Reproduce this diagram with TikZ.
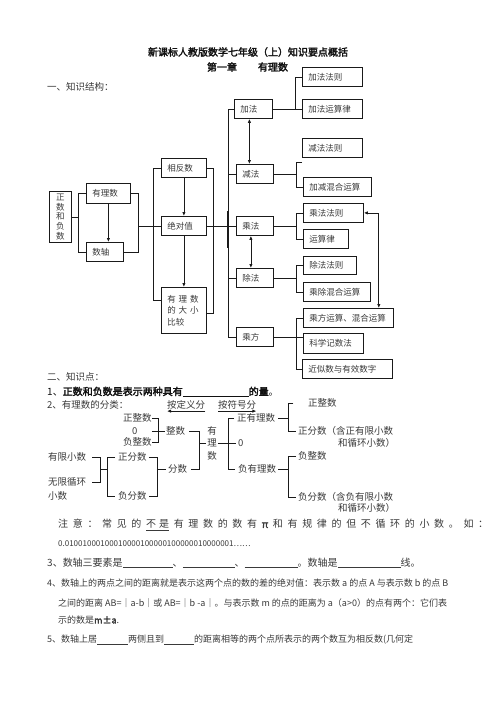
\documentclass[tikz,border=0pt]{standalone}
\usepackage{fontspec}
\setmainfont{Noto Sans CJK SC}[AutoFakeBold=2.5]
\usetikzlibrary{arrows.meta,calc,positioning}
\definecolor{cInk}{HTML}{111111}
\definecolor{cText}{HTML}{3A3A3A}
\definecolor{cLine}{HTML}{1A1A1A}

\begin{document}
\begin{tikzpicture}[
  x=1pt, y=-1pt,
  font=\fontsize{9.5}{11}\selectfont,
  >={Latex[length=4pt,width=3.4pt]},
  link/.style={draw=cLine, line width=0.8pt},
  alink/.style={link, ->},
  dlink/.style={link, <->},
  card/.style={draw=cLine, line width=0.8pt, anchor=north west,
    inner xsep=6pt, inner ysep=0pt, text width=#1, minimum height=19pt,
    align=left, text=cText, font=\fontsize{8.5}{10}\selectfont},
  txt/.style={anchor=west, inner sep=0pt, text=cText,
    font=\fontsize{9.5}{11}\selectfont},
  head/.style={inner sep=0pt, text=cInk,
    font=\fontsize{10}{12}\selectfont\bfseries},
]
\fill[white] (0,0) rectangle (496,702);
\useasboundingbox (0,0) rectangle (496,702);

% ---- Headings ----
\node[head] (title) at (248,52) {新课标人教版数学七年级（上）知识要点概括};
\node[head] (chap) at (222,67) {第一章};
\node[head] (chapName) at (273,67) {有理数};
\node[txt] (sec1) at (47,87) {一、知识结构：};

% ---- Structure: left part ----
\node[card=10pt, align=center, minimum height=51pt,
  font=\fontsize{8.5}{9.6}\selectfont] (posneg) at (49,191) {正\\数\\和\\负\\数};
\node[card=32pt, minimum height=20pt] (rational) at (86,183) {有理数};
\node[card=25pt] (numline) at (86,242) {数轴};
\node[card=33pt] (opposite) at (161,158) {相反数};
\node[card=33pt] (absval) at (161,216) {绝对值};
\node[card=33pt, minimum height=46pt, font=\fontsize{8.5}{11.5}\selectfont] (compare)
  at (161,287) {\makebox[34pt][s]{有 理 数}\\\makebox[34pt][s]{的 大 小}\\比较};

% ---- Structure: operations ----
\node[card=26pt] (add) at (234,99) {加法};
\node[card=25pt] (sub) at (236,164) {减法};
\node[card=25pt] (mul) at (236,216) {乘法};
\node[card=25pt] (div) at (236,268) {除法};
\node[card=25pt] (pow) at (236,327) {乘方};

\node[card=48pt] (addRule) at (302,67) {加法法则};
\node[card=48pt] (addLaw) at (302,99) {加法运算律};
\node[card=48pt] (subRule) at (302,138) {减法法则};
\node[card=56pt] (addSub) at (303,177) {加减混合运算};
\node[card=48pt] (mulRule) at (303,203) {乘法法则};
\node[card=33pt] (mulLaw) at (303,229) {运算律};
\node[card=41pt, minimum height=18pt] (divRule) at (303,256) {除法法则};
\node[card=55pt] (mulDiv) at (303,282) {乘除混合运算};
\node[card=78pt] (powMix) at (303,308) {乘方运算、混合运算};
\node[card=48pt, minimum height=20pt] (sciNot) at (303,333) {科学记数法};
\node[card=78pt] (approx) at (302,359) {近似数与有效数字};

% ---- Structure connectors ----
\draw[link] (posneg.east) -- ++(7,0);
\draw[link] (rational.west) -- ++(-8,0) |- (numline.west);
\draw[link] (rational.east) -- ++(8,0) coordinate (lb) |- (numline.east);
\draw[alink] (rational.south) -- (rational.south |- numline.north);
\draw[link] (lb |- absval.west) -- (absval.west);

\draw[link] (opposite.west) -- ++(-8,0) |- ([yshift=10pt]compare.west);
\draw[link] (opposite.east) -- ++(7,0) |- ([yshift=-3pt]compare.east);
\draw[alink] (opposite.south) -- (absval.north);
\draw[alink] (absval.south) -- (compare.north);
\draw[link] (absval.east) -- (mul.west);

\draw[link] (add.west) -- ++(-6,0) |- (pow.west);
\draw[link] (sub.west) -- ++(-8,0);
\draw[link] (div.west) -- ++(-8,0);
\draw[link, line width=1.6pt] ($(mul.west)+(-8,-15)$) -- ($(mul.west)+(-8,22)$);
\draw[dlink] ([xshift=-4pt]add.south) -- ([xshift=-4pt]add.south |- sub.north);
\draw[dlink] ([xshift=-4pt]mul.south) -- ([xshift=-4pt]mul.south |- div.north);

\draw[link] (add.east) -- ++(22,0);
\draw[link] (addRule.west) -- ++(-7,0) |- (addLaw.west);
\draw[link] (sub.east) -- ++(23,0);
\draw[link] ([yshift=-5pt]subRule.south west) -- ++(-6,0) |- (addSub.west);
\draw[link] (mul.east) -- ++(23,0);
\draw[link] (mulRule.west) -- ++(-7,0) |- (mulLaw.west);
\draw[link] (div.east) -- ++(23,0);
\draw[link] (divRule.west) -- ++(-7,0) |- (mulDiv.west);
\draw[link] (pow.east) -- (pow.east -| sciNot.west);
\draw[link] (powMix.west) -- ++(-7,0) |- (approx.west);
\draw[dlink] (mulRule.east) -- ++(15,0) coordinate (rr) -- (rr |- powMix.north);

% ---- Knowledge points ----
\node[txt] (sec2) at (47,377) {二、知识点：};
\node[txt, text=cInk, font=\fontsize{10}{12}\selectfont] (pt1) at (47,392)
  {1、\textbf{正数和负数是表示两种具有}\underline{\hspace{66pt}}\textbf{的量}。};
\node[txt] (pt2) at (47,405) {2、有理数的分类：};
\node[txt] (byDef) at (167,405) {按定义分};
\node[txt] (bySign) at (218,405) {按符号分};
\draw[alink] ([yshift=-1.5pt]byDef.south east) -- ([yshift=-1.5pt]byDef.south west);
\draw[alink] ([yshift=-1.5pt]bySign.south west) -- ([yshift=-1.5pt]bySign.south east);

% by definition
\node[txt] (pInt) at (123,418) {正整数};
\node[txt] (zero) at (132,431) {0};
\node[txt] (nInt) at (123,442) {负整数};
\node[txt] (intg) at (166,431) {整数};
\node[txt] (frac) at (168,469) {分数};
\node[txt, anchor=center, align=center, font=\fontsize{9.5}{12.5}\selectfont] (ratV)
  at (212,443) {有\\理\\数};
\node[txt] (pFrac) at (118,457) {正分数};
\node[txt] (nFrac) at (118,496) {负分数};
\node[txt] (finDec) at (48,457) {有限小数};
\node[txt, anchor=north west, align=left, font=\fontsize{9.5}{14}\selectfont] (infDec)
  at (48,477) {无限循环\\小数};

\draw[link] (pInt.east) -- ++(6.5,0) |- (nInt.east);
\draw[link] (pInt.east |- zero.east) -- ([xshift=-1pt]intg.west);
\draw[link] ([xshift=4pt]intg.east) -- ++(10,0) coordinate (b2) |- ([xshift=4pt]frac.east);
\draw[link] (b2 |- ratV.west) -- ([xshift=-1pt]ratV.west);
\draw[link] ([xshift=2pt]pFrac.east) -- ++(8,0) coordinate (b3) |- ([xshift=2pt]nFrac.east);
\draw[link] (b3 |- frac.west) -- ([xshift=-2pt]frac.west);
\draw[link] ([xshift=6pt]finDec.east) -- ++(8,0) coordinate (b4)
  |- ([shift={(6pt,-5pt)}]infDec.north east);
\draw[link] (b4 |- frac.west) -- ++(7,0) coordinate (b5);
\draw[link] ([xshift=-3pt]pFrac.west) -- (b5 |- pFrac.west) |- ([xshift=-3pt]nFrac.west);

% by sign
\node[txt] (pRat) at (237,418) {正有理数};
\node[txt] (zeroR) at (238,443) {0};
\node[txt] (nRat) at (238,469) {负有理数};
\node[txt] (pIntR) at (308,403) {正整数};
\node[txt, anchor=north west, align=left, font=\fontsize{9.5}{11.8}\selectfont] (pFracR)
  at (298,426) {正分数（含正有限小数\\\hspace*{40pt}和循环小数）};
\node[txt] (nIntR) at (298,456) {负整数};
\node[txt, anchor=north west, align=left, font=\fontsize{9.5}{11.5}\selectfont] (nFracR)
  at (298,492) {负分数（含负有限小数\\\hspace*{40pt}和循环小数）};

\draw[link] ([xshift=1pt]ratV.east) -- ++(10,0) coordinate (b6);
\draw[link] ([xshift=-3pt]pRat.west) -- (b6 |- pRat.west) |- ([xshift=-3pt]nRat.west);
\draw[link] (b6) -- ([xshift=-2pt]zeroR.west);
\draw[link] ([xshift=3pt]pRat.east) -- ++(10,0) coordinate (b7);
\draw[link] ($(b7 |- pIntR.west)+(5,0)$) -- (b7 |- pIntR.west)
  |- ([shift={(-2pt,-5pt)}]pFracR.north west);
\draw[link] ([xshift=2pt]nRat.east) -- ++(10,0) coordinate (b8);
\draw[link] ([xshift=-2pt]nIntR.west) -- (b8 |- nIntR.west)
  |- ([shift={(-2pt,-5pt)}]nFracR.north west);

% ---- Remaining points ----
\node[txt, font=\fontsize{10}{12}\selectfont] (note) at (58,525)
  {\makebox[430pt][s]{注 意 ： 常 见 的 \underline{不\hspace{3pt}是} 有 理 数 的 数 有 \textbf{π} 和 有 规 律 的 但 不 循 环 的 小 数 。 如 ：}};
\node[txt, font=\fontsize{8}{10}\selectfont] (eg) at (58,544)
  {0.01001000100010000100000100000010000001……};
\node[txt, font=\fontsize{10}{12}\selectfont] (pt3) at (47,563)
  {3、数轴三要素是\underline{\hspace{50pt}}、\underline{\hspace{52pt}}、\underline{\hspace{53pt}}。数轴是\underline{\hspace{63pt}}线。};
\node[txt, font=\fontsize{9}{11}\selectfont] (pt4) at (47,583)
  {4、数轴上的两点之间的距离就是表示这两个点的数的差的绝对值：表示数 a 的点 A 与表示数 b 的点 B};
\node[txt, font=\fontsize{9}{11}\selectfont] (pt4b) at (58,603)
  {之间的距离 AB=｜a-b｜或 AB=｜b -a｜。与表示数 m 的点的距离为 a（a>0）的点有两个：它们表};
\node[txt, font=\fontsize{9}{11}\selectfont] (pt4c) at (58,620)
  {示的数是\textbf{m±a}.};
\node[txt, font=\fontsize{9}{11}\selectfont] (pt5) at (47,640)
  {5、数轴上居\underline{\hspace{31pt}}两侧且到\underline{\hspace{30pt}}的距离相等的两个点所表示的两个数互为相反数(几何定};

\end{tikzpicture}
\end{document}
